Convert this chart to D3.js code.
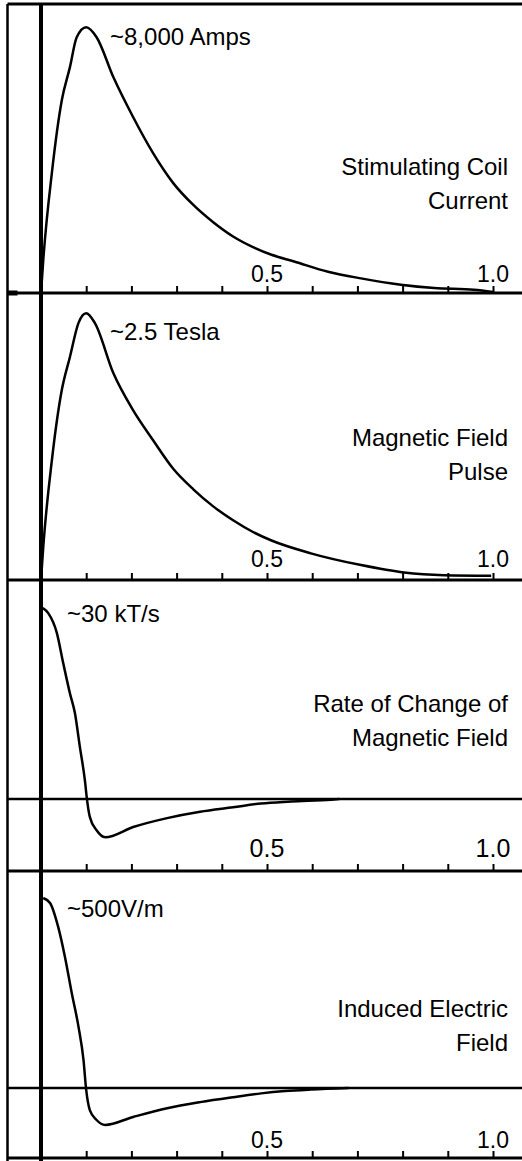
<!DOCTYPE html>
<html>
<head>
<meta charset="utf-8">
<script src="https://cdn.jsdelivr.net/npm/d3@7"></script>
<style>
  body { margin: 0; background: #fff; }
  svg { display: block; font-family: "Liberation Sans", Arial, sans-serif; }
</style>
</head>
<body>
<div id="Chart"></div>
<script>
// time axis, fraction of the pulse (0..1.0)
const tickValues = [0.1, 0.2, 0.3, 0.4, 0.5, 0.6, 0.7, 0.8, 0.9, 1.0];
const tickLabels = ["0.5", "1.0"];

// stimulating coil current, amps
const coilT = [0, 0.005, 0.024, 0.046, 0.064, 0.079, 0.1, 0.123, 0.16, 0.204, 0.248, 0.293, 0.337, 0.381, 0.425, 0.469, 0.51, 0.56, 0.635, 0.708, 0.796, 0.87, 0.958, 1.0];
const coilAmps = [0, 990, 3610, 5800, 6800, 7700, 8000, 7700, 6500, 5290, 4210, 3300, 2650, 2130, 1700, 1380, 1150, 950, 640, 440, 250, 150, 100, 30];

// magnetic field pulse, tesla
const fieldT = [0, 0.005, 0.024, 0.046, 0.064, 0.083, 0.1, 0.119, 0.16, 0.204, 0.248, 0.293, 0.337, 0.381, 0.425, 0.469, 0.51, 0.597, 0.708, 0.803, 0.892, 0.996];
const fieldTesla = [0, 0.31, 1.12, 1.78, 2.09, 2.41, 2.5, 2.41, 1.94, 1.59, 1.31, 1.04, 0.85, 0.69, 0.56, 0.45, 0.37, 0.25, 0.14, 0.07, 0.045, 0.04];

// rate of change of magnetic field, kT/s
const dBdtT = [0.004, 0.016, 0.035, 0.049, 0.064, 0.075, 0.086, 0.097, 0.102, 0.108, 0.123, 0.142, 0.204, 0.279, 0.352, 0.425, 0.487, 0.553, 0.642, 0.66];
const dBdtKTs = [30, 29.2, 26.1, 21.4, 16.6, 13.5, 8.2, 3.0, -0.2, -2.8, -4.9, -6.0, -4.4, -3.0, -2.0, -1.3, -0.7, -0.4, -0.1, 0];

// induced electric field, V/m
const efieldT = [0.005, 0.02, 0.038, 0.053, 0.068, 0.083, 0.094, 0.1, 0.108, 0.123, 0.142, 0.204, 0.279, 0.352, 0.425, 0.487, 0.54, 0.597, 0.68];
const efieldVm = [500, 487, 424, 345, 250, 161, 74, -5, -58, -84, -97, -76, -53, -37, -24, -14, -8, -4, 0];

const panelNames = [["Stimulating Coil", "Current"], ["Magnetic Field", "Pulse"], ["Rate of Change of", "Magnetic Field"], ["Induced Electric", "Field"]];
const peakLabels = ["~8,000 Amps", "~2.5 Tesla", "~30 kT/s", "~500V/m"];

const W = 522, H = 1161;
const frame = {left: 7.5, axisX: 41, right: 522, top: 4};
const panels = [
  {t: coilT,   v: coilAmps,   top: 4,   axis: 293,  dom: [0, 8700],     zero: false, peak: [110, 45],  name: 175, tick: 23, tickY: 11, stub: true},
  {t: fieldT,  v: fieldTesla, top: 293, axis: 580,  dom: [0, 2.69],     zero: false, peak: [110, 340], name: 446, tick: 23, tickY: 13},
  {t: dBdtT,   v: dBdtKTs,    top: 580, axis: 871,  dom: [-11.3, 34.4], zero: true,  peak: [67, 622],  name: 712, tick: 25, tickY: 14},
  {t: efieldT, v: efieldVm,   top: 871, axis: 1158, dom: [-184, 571],   zero: true,  peak: [67, 917],  name: 1017, tick: 23, tickY: 10}
];

const svg = d3.select("#Chart").append("svg")
  .attr("width", W).attr("height", H);

const x = d3.scaleLinear().domain([0, 1]).range([frame.axisX, 493]);

// frame: left border, top border, t=0 axis
svg.append("line")
  .attr("x1", frame.left).attr("x2", frame.left)
  .attr("y1", frame.top).attr("y2", H)
  .attr("stroke", "#000").attr("stroke-width", 2.5);
svg.append("line")
  .attr("x1", frame.left).attr("x2", frame.right)
  .attr("y1", frame.top).attr("y2", frame.top)
  .attr("stroke", "#000").attr("stroke-width", 3);
svg.append("line")
  .attr("x1", x(0)).attr("x2", x(0))
  .attr("y1", frame.top).attr("y2", H)
  .attr("stroke", "#000").attr("stroke-width", 4);

panels.forEach((p, i) => {
  const y = d3.scaleLinear().domain(p.dom).range([p.axis, p.top]);
  const g = svg.append("g").attr("class", "panel");

  // bottom axis with upward ticks
  g.append("line")
    .attr("x1", frame.left).attr("x2", frame.right)
    .attr("y1", p.axis).attr("y2", p.axis)
    .attr("stroke", "#000").attr("stroke-width", 3);
  if (p.stub) {
    g.append("line")
      .attr("x1", frame.left).attr("x2", frame.left + 10)
      .attr("y1", p.axis).attr("y2", p.axis)
      .attr("stroke", "#000").attr("stroke-width", 5);
  }
  const ax = g.append("g")
    .attr("transform", `translate(0 ${p.axis})`)
    .call(d3.axisBottom(x).tickValues(tickValues).tickSize(-7).tickFormat(""));
  ax.select(".domain").remove();
  ax.selectAll(".tick line").attr("stroke", "#000").attr("stroke-width", 2);

  g.selectAll("text.tl").data(tickLabels).join("text")
    .attr("class", "tl")
    .attr("x", d => x(+d))
    .attr("y", p.axis - p.tickY)
    .attr("text-anchor", "middle")
    .attr("font-size", p.tick)
    .text(d => d);

  if (p.zero) {
    g.append("line")
      .attr("x1", frame.left).attr("x2", frame.right)
      .attr("y1", y(0)).attr("y2", y(0))
      .attr("stroke", "#000").attr("stroke-width", 2.5);
  }

  const line = d3.line()
    .x(d => x(d[0]))
    .y(d => y(d[1]))
    .curve(d3.curveMonotoneX);
  g.append("path")
    .datum(d3.zip(p.t, p.v))
    .attr("d", line)
    .attr("fill", "none")
    .attr("stroke", "#000")
    .attr("stroke-width", 2.5);

  g.append("text")
    .attr("x", p.peak[0]).attr("y", p.peak[1])
    .attr("font-size", 24)
    .text(peakLabels[i]);

  g.selectAll("text.nm").data(panelNames[i]).join("text")
    .attr("class", "nm")
    .attr("x", 508)
    .attr("y", (d, j) => p.name + j * 34)
    .attr("text-anchor", "end")
    .attr("font-size", 24)
    .text(d => d);
});
</script>
</body>
</html>
